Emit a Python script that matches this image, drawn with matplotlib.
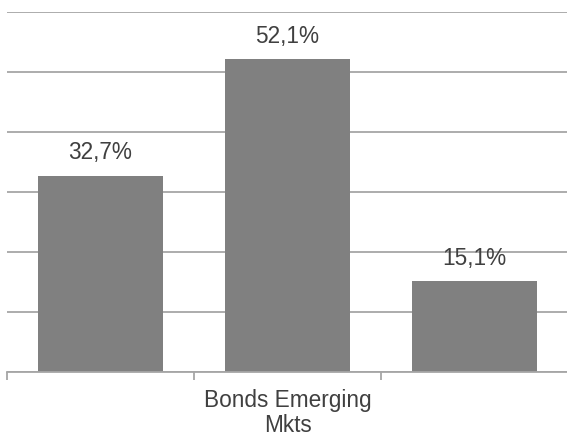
import numpy as np
import matplotlib.pyplot as plt

plt.rcParams['font.family'] = ['Liberation Sans', 'DejaVu Sans']

# one category label under the middle bar, shares in percent
labels = ["", "Bonds Emerging\nMkts", ""]
values = [32.7, 52.1, 15.1]

bar_color = "#808080"
grid_color = "#a6a6a6"
text_color = "#404040"

fig = plt.figure(figsize=(5.67, 4.33), dpi=100)
ax = fig.add_axes([7 / 567, 61 / 433, 561 / 567, 360 / 433])

x = np.arange(len(values))
ax.bar(x, values, width=0.665, color=bar_color, zorder=3)

for xi, v in zip(x, values):
    ax.annotate("{:.1f}%".format(v).replace(".", ","), (xi, v),
                xytext=(0, 16.5), textcoords="offset points",
                ha="center", va="center", fontsize=16.3, color=text_color)

ax.set_ylim(0, 60)
ax.set_xlim(-0.5, 2.5)
ax.set_yticks(np.arange(0, 61, 10))
ax.yaxis.grid(True, color=grid_color, linewidth=1.3, zorder=0)
ax.tick_params(axis="y", left=False, labelleft=False)

# boundary ticks between categories, labels at the centres
ax.set_xticks([-0.5, 0.5, 1.5, 2.5])
ax.set_xticklabels([])
ax.tick_params(axis="x", which="major", length=6, width=1.3, color=grid_color)
ax.set_xticks(x, minor=True)
ax.set_xticklabels(labels, minor=True, fontsize=16.3, color=text_color, linespacing=1.15)
ax.tick_params(axis="x", which="minor", length=0, pad=12)

for s in ["top", "left", "right"]:
    ax.spines[s].set_visible(False)
ax.spines["bottom"].set_color(grid_color)
ax.spines["bottom"].set_linewidth(1.3)
ax.spines["bottom"].set_zorder(4)

fig.savefig("out.png", dpi=100)
